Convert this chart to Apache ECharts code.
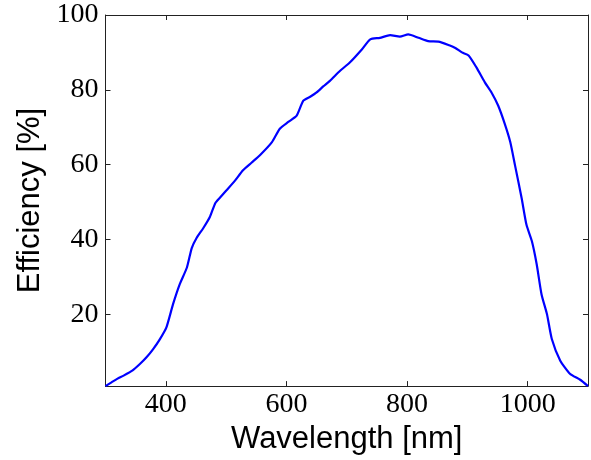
<!DOCTYPE html>
<html>
<head>
<meta charset="utf-8">
<script src="https://cdn.jsdelivr.net/npm/echarts@6/dist/echarts.min.js"></script>
<style>
    html, body { margin: 0; padding: 0; background: #fff; }
    #main { width: 591px; height: 460px; }
</style>
</head>
<body>
<div id="main"></div>
<script>
// wavelength [nm] and efficiency [%]
var wavelength = [300, 310, 320, 330, 345, 357, 368, 379, 390, 401, 412, 423, 435, 443, 451, 462, 473, 482, 490, 501,
    515, 528, 542, 556, 576, 589, 603, 617, 628, 640, 650, 661, 672, 689, 705, 725, 739, 755, 772, 788,
    802, 819, 835, 852, 870, 880, 891, 902, 915, 929, 940, 951, 962, 971, 979, 990, 998, 1007, 1015, 1023,
    1032, 1040, 1054, 1070, 1087, 1100];
var efficiency = [0.8, 1.8, 2.8, 3.6, 5.0, 6.7, 8.5, 10.7, 13.3, 16.5, 22.7, 28, 32.5, 37.7, 40.4, 43, 46, 49.7, 51.2, 53.2,
    55.8, 58.5, 60.5, 62.5, 66, 69.6, 71.4, 73.1, 77.1, 78.2, 79.3, 80.9, 82.4, 85.1, 87.3, 90.8, 93.5, 93.9, 94.6, 94.2,
    94.8, 93.9, 93.0, 92.9, 91.9, 91.2, 90, 89.2, 86, 82, 79.3, 75.8, 70.9, 66.1, 59.8, 51, 43.9, 39.5, 33.3, 25.3,
    20, 13.4, 7.6, 4.1, 2.5, 0.8];
var xTicks = [400, 600, 800, 1000];
var yTicks = [20, 40, 60, 80, 100];

var points = [];
wavelength.forEach(function (w, i) {
    points.push([w, efficiency[i]]);
});

var axisColor = '#222';
var tickFont = {
    fontFamily: 'Liberation Serif', fontSize: 28, color: '#000',
    formatter: function (v) { return String(v); }
};

var myChart = echarts.init(document.getElementById('main'));
var option = {
    animation: false,
    grid: { left: 105.5, right: 3, top: 15, bottom: 71, containLabel: false },
    xAxis: [{
        type: 'value',
        min: 300,
        max: 1100,
        name: 'Wavelength [nm]',
        nameLocation: 'middle',
        nameGap: 34,
        nameTextStyle: { fontFamily: 'Liberation Sans', fontSize: 31, color: '#000' },
        axisLine: { show: true, onZero: false, lineStyle: { color: axisColor, width: 1 } },
        axisTick: { show: true, inside: true, length: 5, customValues: xTicks, lineStyle: { color: axisColor } },
        axisLabel: Object.assign({ margin: 5, customValues: xTicks }, tickFont),
        splitLine: { show: false }
    }, {
        type: 'value',
        position: 'top',
        min: 300,
        max: 1100,
        axisLine: { show: true, onZero: false, lineStyle: { color: axisColor, width: 1 } },
        axisTick: { show: true, inside: true, length: 5, customValues: xTicks, lineStyle: { color: axisColor } },
        axisLabel: { show: false },
        splitLine: { show: false }
    }],
    yAxis: [{
        type: 'value',
        min: 0.8,
        max: 100,
        name: 'Efficiency [%]',
        nameLocation: 'middle',
        nameGap: 60,
        nameTextStyle: { fontFamily: 'Liberation Sans', fontSize: 31, color: '#000' },
        axisLine: { show: true, onZero: false, lineStyle: { color: axisColor, width: 1 } },
        axisTick: { show: true, inside: true, length: 5, customValues: yTicks, lineStyle: { color: axisColor } },
        axisLabel: Object.assign({ margin: 7, customValues: yTicks }, tickFont),
        splitLine: { show: false }
    }, {
        type: 'value',
        position: 'right',
        min: 0.8,
        max: 100,
        axisLine: { show: true, onZero: false, lineStyle: { color: axisColor, width: 1 } },
        axisTick: { show: true, inside: true, length: 5, customValues: yTicks, lineStyle: { color: axisColor } },
        axisLabel: { show: false },
        splitLine: { show: false }
    }],
    series: [{
        type: 'line',
        data: points,
        showSymbol: false,
        smooth: 0.2,
        clip: true,
        lineStyle: { color: '#0000ff', width: 2.2 }
    }]
};
myChart.setOption(option);
</script>
</body>
</html>
